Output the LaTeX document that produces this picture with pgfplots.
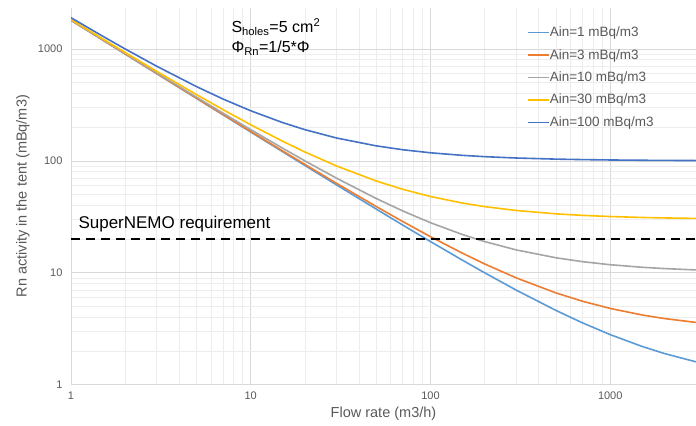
\documentclass[border=0pt]{standalone}
\usepackage{fontspec}
\setmainfont{Liberation Sans}
\usepackage{pgfplots}
\pgfplotsset{compat=1.18}
\usetikzlibrary{calc}

\definecolor{cA}{HTML}{5B9BD5}
\definecolor{cB}{HTML}{ED7D31}
\definecolor{cC}{HTML}{A5A5A5}
\definecolor{cD}{HTML}{FFC000}
\definecolor{cE}{HTML}{4472C4}
\definecolor{txt}{HTML}{595959}
\definecolor{gmaj}{HTML}{D9D9D9}
\definecolor{gmin}{HTML}{EDEDED}

\begin{document}
\begin{tikzpicture}
\begin{axis}[
    name=ax,
    scale only axis,
    width=625pt, height=377pt,
    xmode=log, ymode=log,
    xmin=1, xmax=3000,
    ymin=1, ymax=2335,
    axis x line=bottom, axis y line=left,
    axis line style={draw=gmaj, line width=0.8pt, -},
    major tick length=0pt, minor tick length=0pt,
    grid=both,
    major grid style={gmaj, line width=0.6pt},
    minor grid style={gmin, line width=0.6pt},
    log ticks with fixed point,
    /pgf/number format/1000 sep={},
    /pgf/number format/assume math mode=true,
    tick label style={font=\fontsize{11}{13}\selectfont, text=txt},
    yticklabel style={xshift=-5pt},
    xticklabel style={yshift=-4pt},
    xlabel={Flow rate (m3/h)},
    ylabel={Rn activity in the tent (mBq/m3)},
    every axis x label/.style={at={(axis description cs:0.5,-0.077)}, anchor=center,
        font=\fontsize{14.5}{17}\selectfont, text=txt},
    every axis y label/.style={at={(axis description cs:-0.077,0.5)}, anchor=center, rotate=90,
        font=\fontsize{14.5}{17}\selectfont, text=txt},
    legend style={at={(axis description cs:0.7296,0.95)}, anchor=north west,
        draw=none, fill=none, inner sep=0pt, row sep=11.2pt,
        nodes={inner sep=0pt},
        font=\fontsize{13.5}{16}\selectfont, text=txt},
    legend cell align=left,
    legend image code/.code={\draw[#1] (0pt,0pt) -- (21pt,0pt);},
    clip=true,
]
\addplot[cA, line width=1.6pt] coordinates {
    (1,1801) (1.5,1201) (2,901) (3,601) (5,361) (7,258.1) (10,181) (15,121)
    (20,91) (30,61) (50,37) (70,26.71) (100,19) (150,13) (200,10) (300,7)
    (500,4.6) (700,3.571) (1000,2.8) (1500,2.2) (2000,1.9) (3000,1.6)
};
\addlegendentry{Ain=1 mBq/m3}
\addplot[cB, line width=1.6pt] coordinates {
    (1,1803) (1.5,1203) (2,903) (3,603) (5,363) (7,260.1) (10,183) (15,123)
    (20,93) (30,63) (50,39) (70,28.71) (100,21) (150,15) (200,12) (300,9)
    (500,6.6) (700,5.571) (1000,4.8) (1500,4.2) (2000,3.9) (3000,3.6)
};
\addlegendentry{Ain=3 mBq/m3}
\addplot[cC, line width=1.6pt] coordinates {
    (1,1810) (1.5,1210) (2,910) (3,610) (5,370) (7,267.1) (10,190) (15,130)
    (20,100) (30,70) (50,46) (70,35.71) (100,28) (150,22) (200,19) (300,16)
    (500,13.6) (700,12.57) (1000,11.8) (1500,11.2) (2000,10.9) (3000,10.6)
};
\addlegendentry{Ain=10 mBq/m3}
\addplot[cD, line width=1.6pt] coordinates {
    (1,1830) (1.5,1230) (2,930) (3,630) (5,390) (7,287.1) (10,210) (15,150)
    (20,120) (30,90) (50,66) (70,55.71) (100,48) (150,42) (200,39) (300,36)
    (500,33.6) (700,32.57) (1000,31.8) (1500,31.2) (2000,30.9) (3000,30.6)
};
\addlegendentry{Ain=30 mBq/m3}
\addplot[cE, line width=1.6pt] coordinates {
    (1,1900) (1.5,1300) (2,1000) (3,700) (5,460) (7,357.1) (10,280) (15,220)
    (20,190) (30,160) (50,136) (70,125.7) (100,118) (150,112) (200,109) (300,106)
    (500,103.6) (700,102.6) (1000,101.8) (1500,101.2) (2000,100.9) (3000,100.6)
};
\addlegendentry{Ain=100 mBq/m3}
\addplot[black, line width=2.6pt, dash pattern=on 9pt off 6pt, forget plot] coordinates {
    (1,20) (3000,20)
};
\node[anchor=base west, font=\fontsize{16}{19}\selectfont] at (axis description cs:0.2512,0.934)
    {S\textsubscript{holes}=5 cm\textsuperscript{2}};
\node[anchor=base west, font=\fontsize{16}{19}\selectfont] at (axis description cs:0.2512,0.881)
    {Φ\textsubscript{Rn}=1/5*Φ};
\node[anchor=base west, font=\fontsize{17}{20}\selectfont] at (axis description cs:0.0064,0.4138)
    {SuperNEMO requirement};
\end{axis}
\pgfresetboundingbox
\path[use as bounding box] ($(ax.south west)+(-71pt,-41pt)$) rectangle ($(ax.north east)+(0pt,7.7pt)$);
\end{tikzpicture}
\end{document}
